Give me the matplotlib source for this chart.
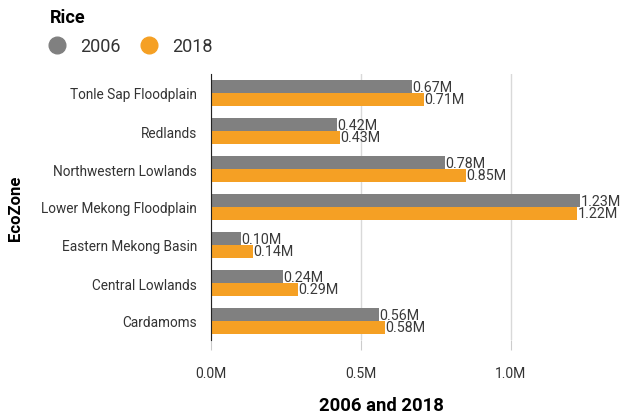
import matplotlib.pyplot as plt
import numpy as np
from matplotlib.lines import Line2D

plt.rcParams['font.family'] = ['Roboto', 'DejaVu Sans']

zones = ["Tonle Sap Floodplain", "Redlands", "Northwestern Lowlands",
         "Lower Mekong Floodplain", "Eastern Mekong Basin", "Central Lowlands",
         "Cardamoms"]
rice_2006 = [0.67, 0.42, 0.78, 1.23, 0.10, 0.24, 0.56]
rice_2018 = [0.71, 0.43, 0.85, 1.22, 0.14, 0.29, 0.58]
xticks = [0.0, 0.5, 1.0]

c06 = "#808080"
c18 = "#f5a024"

fig = plt.figure(figsize=(6.2, 4.14), dpi=100)
ax = fig.add_axes([211/620, 1 - 341/414, 390/620, 266/414])

y = np.arange(len(zones))[::-1]
h = 0.33
ax.barh(y + h/2, rice_2006, height=h, color=c06, zorder=2)
ax.barh(y - h/2, rice_2018, height=h, color=c18, zorder=2)

for yy, v in zip(y, rice_2006):
    ax.text(v + 0.002, yy + h/2, f"{v:.2f}M", va="center", ha="left", fontsize=10.3,
            color="#3a3a3a", clip_on=False)
for yy, v in zip(y, rice_2018):
    ax.text(v + 0.002, yy - h/2, f"{v:.2f}M", va="center", ha="left", fontsize=10.3,
            color="#3a3a3a", clip_on=False)

ax.set_xlim(0, 1.3)
ax.set_ylim(-0.5, len(zones) - 0.5)
ax.set_yticks(y)
ax.set_yticklabels(zones, fontsize=9.8, color="#333333")
ax.set_xticks(xticks)
ax.set_xticklabels([f"{t:.1f}M" for t in xticks], fontsize=10, color="#333333")
ax.tick_params(axis="y", length=0, pad=10)
ax.tick_params(axis="x", length=7, color="#cccccc", pad=12)
ax.grid(axis="x", color="#d9d9d9", linewidth=1, zorder=0)
for s in ["top", "right", "bottom"]:
    ax.spines[s].set_visible(False)
ax.spines["left"].set_color("#222222")

ax.set_ylabel("EcoZone", fontsize=12, fontweight="bold")
ax.yaxis.set_label_coords(-188/390, 0.5)
fig.text(381/620, 1 - 406/414, "2006 and 2018", ha="center", va="center",
         fontsize=13.3, fontweight="bold")

fig.text(50/620, 1 - 18/414, "Rice", ha="left", va="center", fontsize=13, fontweight="bold")
handles = [Line2D([], [], marker="o", linestyle="", markersize=12, color=c06),
           Line2D([], [], marker="o", linestyle="", markersize=12, color=c18)]
fig.legend(handles, ["2006", "2018"], loc="center left", bbox_to_anchor=(32/620, 1 - 47/414),
           ncol=2, frameon=False, fontsize=13, handletextpad=0.25, columnspacing=0.6,
           labelcolor="#333333", borderaxespad=0)

fig.savefig("out.png", dpi=100)
